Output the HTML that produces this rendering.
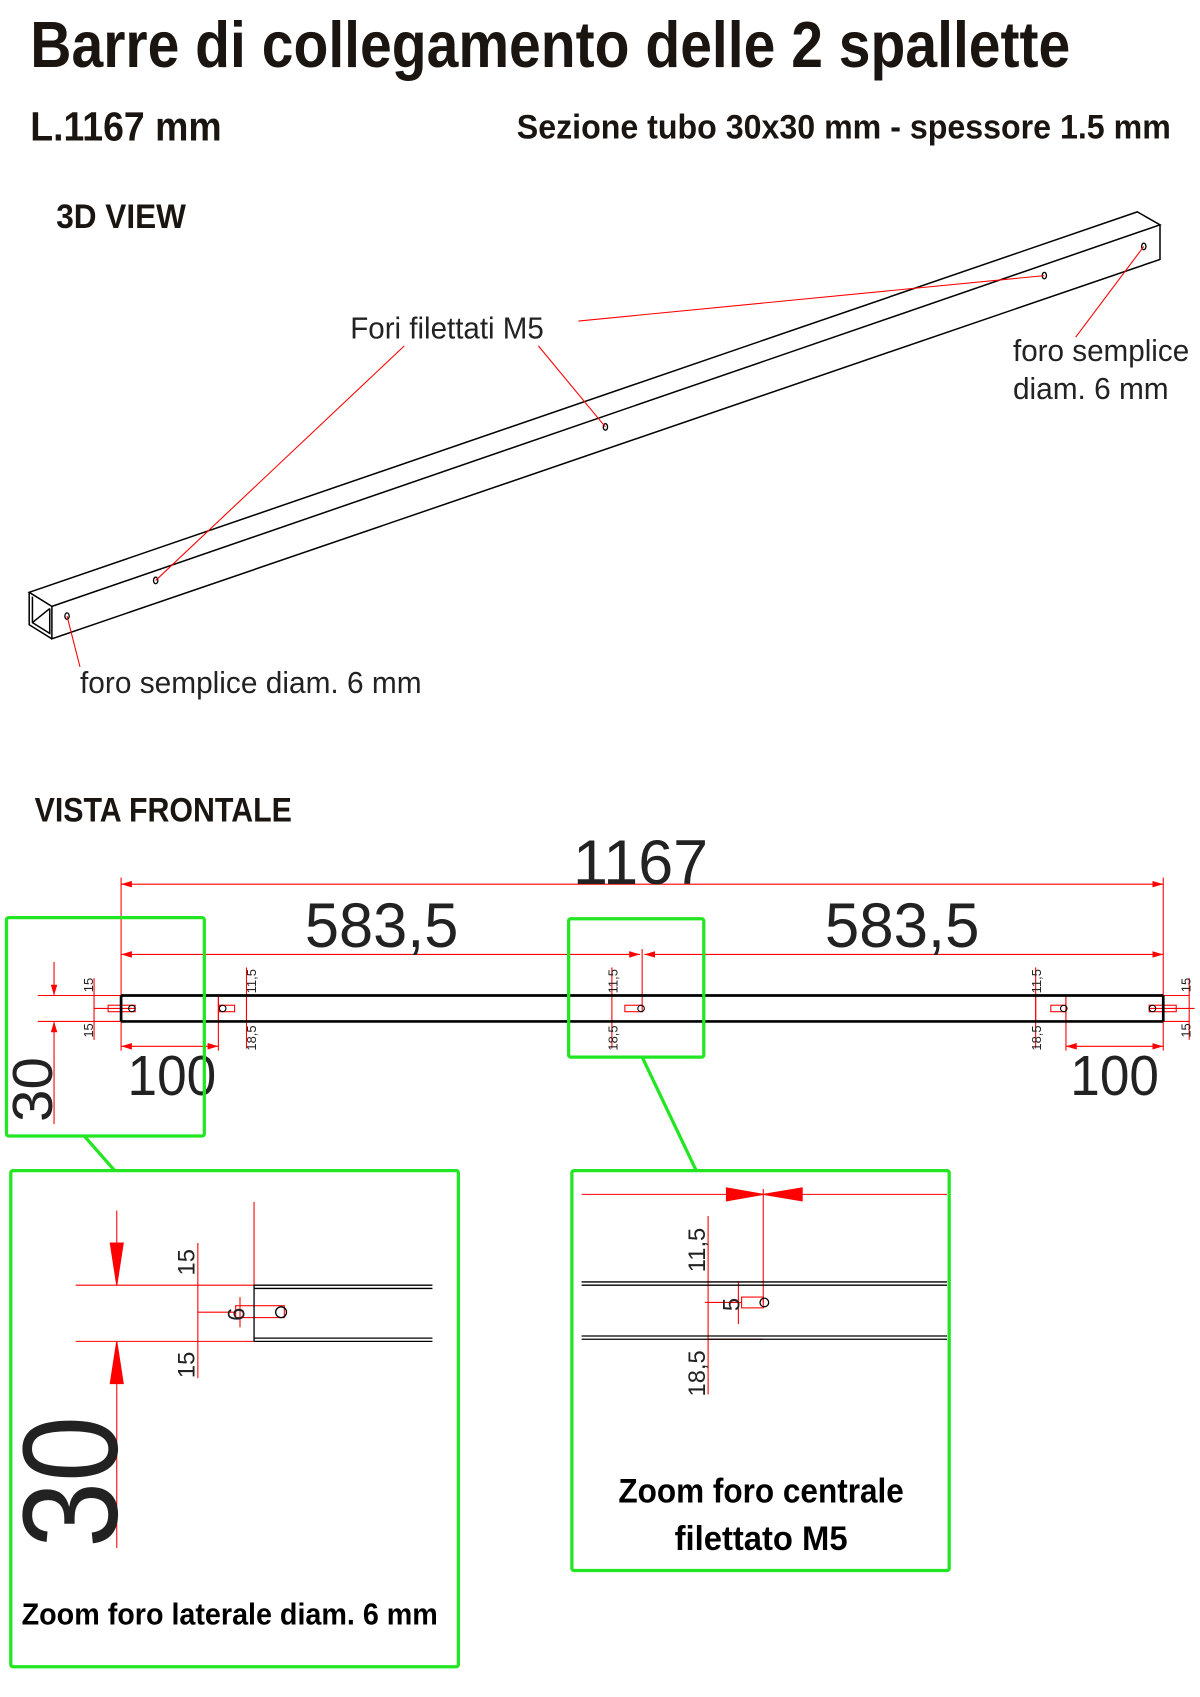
<!DOCTYPE html>
<html><head><meta charset="utf-8"><style>
html,body{margin:0;padding:0;background:#fff;}
svg{display:block;}
.b{font-family:"Liberation Sans",sans-serif;font-weight:bold;fill:#1a1510;}
.n{font-family:"Liberation Sans",sans-serif;fill:#222;}
.r{stroke:#f00;stroke-width:1;fill:none;}
.k{stroke:#000;fill:none;}
.g{stroke:#22e622;stroke-width:3;fill:none;}
</style></head><body>
<svg width="1200" height="1697" viewBox="0 0 1110 1570" preserveAspectRatio="none" xmlns="http://www.w3.org/2000/svg">
<defs>
<marker id="a" viewBox="0 0 10 6" refX="10" refY="3" markerWidth="10" markerHeight="6" orient="auto-start-reverse" markerUnits="userSpaceOnUse"><path d="M0,0 L10,3 L0,6 z" fill="#f00"/></marker>
</defs>
<text class="b" x="28" y="62" font-size="60" textLength="962" lengthAdjust="spacingAndGlyphs">Barre di collegamento delle 2 spallette</text>
<text class="b" x="28" y="130" font-size="38" textLength="177" lengthAdjust="spacingAndGlyphs">L.1167 mm</text>
<text class="b" x="478" y="128" font-size="32" textLength="605" lengthAdjust="spacingAndGlyphs">Sezione tubo 30x30 mm - spessore 1.5 mm</text>
<text class="b" x="52" y="211" font-size="32" textLength="120" lengthAdjust="spacingAndGlyphs">3D VIEW</text>

<g class="k" stroke-width="1.4">
<path d="M27,548 L1052,196 L1073,208 L48,561 Z"/>
<path d="M48,561 L48,591 L1073,240 L1073,208"/>
<path d="M27,548 L27,578 L48,591"/>
<path d="M30,552 L30,576 L46,586 L46,563"/>
<path d="M30,576 L46,563"/>
</g>
<g fill="#fff" stroke="#000" stroke-width="1.2">
<ellipse cx="62" cy="570" rx="2" ry="3"/>
<ellipse cx="144" cy="537" rx="2" ry="3"/>
<ellipse cx="560" cy="395" rx="2" ry="3"/>
<ellipse cx="966" cy="255" rx="2" ry="3"/>
<ellipse cx="1058" cy="228" rx="2" ry="3"/>
</g>
<g class="r">
<line x1="374" y1="320" x2="144" y2="537"/>
<line x1="498" y1="320" x2="560" y2="395"/>
<line x1="535" y1="297" x2="966" y2="255"/>
<line x1="1058" y1="228" x2="995" y2="312"/>
<line x1="62" y1="570" x2="74" y2="617"/>
</g>
<text class="n" x="324" y="313" font-size="28" textLength="179" lengthAdjust="spacingAndGlyphs">Fori filettati M5</text>
<text class="n" x="937" y="334" font-size="28" textLength="163" lengthAdjust="spacingAndGlyphs">foro semplice</text>
<text class="n" x="937" y="369" font-size="28" textLength="144" lengthAdjust="spacingAndGlyphs">diam. 6 mm</text>
<text class="n" x="74" y="641" font-size="28" textLength="316" lengthAdjust="spacingAndGlyphs">foro semplice diam. 6 mm</text>

<text class="b" x="32" y="760" font-size="32" textLength="238" lengthAdjust="spacingAndGlyphs">VISTA FRONTALE</text>

<g class="r">
<line x1="112" y1="818" x2="1076" y2="818" marker-start="url(#a)" marker-end="url(#a)"/>
<line x1="112" y1="883" x2="592" y2="883" marker-start="url(#a)" marker-end="url(#a)"/>
<line x1="596" y1="883" x2="1076" y2="883" marker-start="url(#a)" marker-end="url(#a)"/>
<line x1="112" y1="812" x2="112" y2="972"/>
<line x1="1076" y1="812" x2="1076" y2="972"/>
<line x1="594" y1="878" x2="594" y2="932"/>
<line x1="112" y1="968" x2="202" y2="968" marker-start="url(#a)" marker-end="url(#a)"/>
<line x1="986" y1="968" x2="1076" y2="968" marker-start="url(#a)" marker-end="url(#a)"/>
<line x1="35" y1="921" x2="112" y2="921"/>
<line x1="35" y1="945" x2="112" y2="945"/>
<line x1="50" y1="890" x2="50" y2="921" marker-end="url(#a)"/>
<line x1="50" y1="1040" x2="50" y2="945" marker-end="url(#a)"/>
<line x1="87" y1="905" x2="87" y2="962"/>
<line x1="87" y1="933" x2="125" y2="933"/>
<rect x="100" y="930" width="25" height="6"/>
<line x1="202" y1="921" x2="202" y2="972"/>
<line x1="228" y1="895" x2="228" y2="970"/>
<rect x="202" y="921" width="26" height="24"/>
<rect x="203" y="930" width="14" height="6"/>
<line x1="566" y1="895" x2="566" y2="970"/>
<line x1="566" y1="921" x2="594" y2="921"/>
<line x1="566" y1="945" x2="594" y2="945"/>
<rect x="578" y="930" width="16" height="6"/>
<line x1="958" y1="895" x2="958" y2="970"/>
<line x1="986" y1="921" x2="986" y2="972"/>
<rect x="958" y="921" width="28" height="24"/>
<rect x="972" y="930" width="14" height="6"/>
<line x1="1076" y1="921" x2="1100" y2="921"/>
<line x1="1076" y1="945" x2="1100" y2="945"/>
<line x1="1100" y1="905" x2="1100" y2="962"/>
<rect x="1063" y="930" width="25" height="6"/>
<line x1="1063" y1="933" x2="1105" y2="933"/>
</g>
<g class="k" stroke-width="2.5">
<line x1="112" y1="921" x2="1076" y2="921"/>
<line x1="112" y1="945" x2="1076" y2="945"/>
<line x1="112" y1="921" x2="112" y2="945"/>
<line x1="1076" y1="921" x2="1076" y2="945"/>
</g>
<g fill="none" stroke="#000" stroke-width="1">
<circle cx="122" cy="933" r="3"/><circle cx="206" cy="933" r="3"/><circle cx="593" cy="933" r="3"/><circle cx="984" cy="933" r="3"/><circle cx="1066" cy="933" r="3"/>
</g>
<g class="n" font-size="12" fill="#000">
<text transform="translate(86,918) rotate(-90)">15</text>
<text transform="translate(86,960) rotate(-90)">15</text>
<text transform="translate(237,919) rotate(-90)">11,5</text>
<text transform="translate(237,972) rotate(-90)">18,5</text>
<text transform="translate(571,919) rotate(-90)">11,5</text>
<text transform="translate(571,972) rotate(-90)">18,5</text>
<text transform="translate(963,919) rotate(-90)">11,5</text>
<text transform="translate(963,972) rotate(-90)">18,5</text>
<text transform="translate(1101,918) rotate(-90)">15</text>
<text transform="translate(1101,960) rotate(-90)">15</text>
</g>
<g class="n" fill="#000">
<text x="530" y="818" font-size="58" textLength="125" lengthAdjust="spacingAndGlyphs">1167</text>
<text x="282" y="876" font-size="58" textLength="142" lengthAdjust="spacingAndGlyphs">583,5</text>
<text x="763" y="876" font-size="58" textLength="143" lengthAdjust="spacingAndGlyphs">583,5</text>
<text x="118" y="1013" font-size="52" textLength="82" lengthAdjust="spacingAndGlyphs">100</text>
<text x="990" y="1013" font-size="52" textLength="82" lengthAdjust="spacingAndGlyphs">100</text>
<text transform="translate(48,1038) rotate(-90)" font-size="52" textLength="60" lengthAdjust="spacingAndGlyphs">30</text>
</g>

<g class="g">
<rect x="6" y="849" width="183" height="202" rx="2"/>
<rect x="526" y="850" width="125" height="128" rx="2"/>
<rect x="10" y="1083" width="414" height="459" rx="2"/>
<rect x="529" y="1083" width="349" height="370" rx="2"/>
<line x1="78" y1="1051" x2="106" y2="1083"/>
<line x1="594" y1="978" x2="644" y2="1083"/>
</g>

<g class="r" stroke-width="1.3">
<line x1="70" y1="1189" x2="235" y2="1189"/>
<line x1="70" y1="1241" x2="235" y2="1241"/>
<line x1="235" y1="1112" x2="235" y2="1189"/>
<line x1="108" y1="1120" x2="108" y2="1189"/>
<line x1="108" y1="1241" x2="108" y2="1432"/>
<path d="M102,1150 L114,1150 L108,1189 Z" fill="#f00"/>
<path d="M102,1280 L114,1280 L108,1241 Z" fill="#f00"/>
<line x1="183" y1="1150" x2="183" y2="1275"/>
<line x1="183" y1="1214" x2="218" y2="1214"/>
<rect x="218" y="1208" width="45" height="11"/>
<line x1="222" y1="1200" x2="222" y2="1228"/>
</g>
<g stroke="#000" stroke-width="1.2" fill="none">
<line x1="235" y1="1189" x2="400" y2="1189"/><line x1="235" y1="1192" x2="400" y2="1192"/>
<line x1="235" y1="1238" x2="400" y2="1238"/><line x1="235" y1="1241" x2="400" y2="1241"/>
<line x1="235" y1="1189" x2="235" y2="1241"/>
<circle cx="260" cy="1214" r="5"/>
</g>
<g class="n" fill="#000">
<text transform="translate(180,1180) rotate(-90)" font-size="22">15</text>
<text transform="translate(180,1275) rotate(-90)" font-size="22">15</text>
<text transform="translate(226,1222) rotate(-90)" font-size="22">6</text>
<text transform="translate(108,1432) rotate(-90)" font-size="125" textLength="122" lengthAdjust="spacingAndGlyphs">30</text>
</g>
<text class="b" x="20" y="1503" font-size="28" textLength="385" lengthAdjust="spacingAndGlyphs" style="fill:#000">Zoom foro laterale diam. 6 mm</text>

<g class="r" stroke-width="1.3">
<line x1="538" y1="1105" x2="876" y2="1105"/>
<path d="M672,1099 L706,1105 L672,1111 Z" fill="#f00"/>
<path d="M742,1099 L706,1105 L742,1111 Z" fill="#f00"/>
<line x1="706" y1="1100" x2="706" y2="1205"/>
<line x1="655" y1="1125" x2="655" y2="1290"/>
<line x1="655" y1="1186" x2="706" y2="1186"/>
<line x1="655" y1="1239" x2="706" y2="1239"/>
<line x1="652" y1="1205" x2="686" y2="1205"/>
<rect x="686" y="1200" width="20" height="10"/>
<line x1="683" y1="1186" x2="683" y2="1225"/>
</g>
<g stroke="#000" stroke-width="1.2" fill="none">
<line x1="538" y1="1186" x2="876" y2="1186"/><line x1="538" y1="1189" x2="876" y2="1189"/>
<line x1="538" y1="1236" x2="876" y2="1236"/><line x1="538" y1="1239" x2="876" y2="1239"/>
<circle cx="707" cy="1205" r="4"/>
</g>
<g class="n" fill="#000">
<text transform="translate(652,1177) rotate(-90)" font-size="22">11,5</text>
<text transform="translate(684,1213) rotate(-90)" font-size="22">5</text>
<text transform="translate(652,1292) rotate(-90)" font-size="22">18,5</text>
</g>
<text class="b" x="572" y="1390" font-size="32" textLength="264" lengthAdjust="spacingAndGlyphs" style="fill:#000">Zoom foro centrale</text>
<text class="b" x="624" y="1434" font-size="32" textLength="160" lengthAdjust="spacingAndGlyphs" style="fill:#000">filettato M5</text>
</svg>
</body></html>
